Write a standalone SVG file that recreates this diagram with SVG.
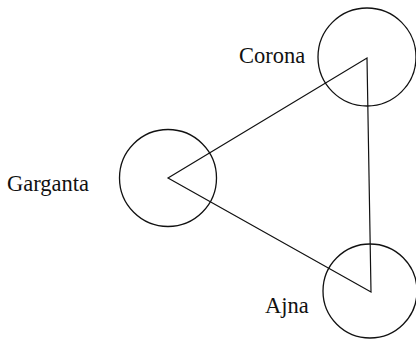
<svg xmlns="http://www.w3.org/2000/svg" width="416" height="339" viewBox="0 0 416 339">
<style>
.c{fill:none;stroke:#111;stroke-width:1.3}
.l{fill:none;stroke:#111;stroke-width:1.2}
.t{font-family:"Liberation Serif","Times New Roman",serif;font-size:22.5px;fill:#111}
</style>
<rect width="416" height="339" fill="#fff"/>
<g id="connectors">
<path class="l" d="M168 178 L367 58 L371 292 Z"/>
</g>
<g id="corona">
<circle class="c" cx="367" cy="57" r="49"/>
<text class="t" x="239" y="63">Corona</text>
</g>
<g id="garganta">
<circle class="c" cx="168" cy="178" r="48.5"/>
<text class="t" x="7" y="191">Garganta</text>
</g>
<g id="ajna">
<circle class="c" cx="370" cy="291" r="47"/>
<text class="t" x="265" y="313">Ajna</text>
</g>
</svg>
